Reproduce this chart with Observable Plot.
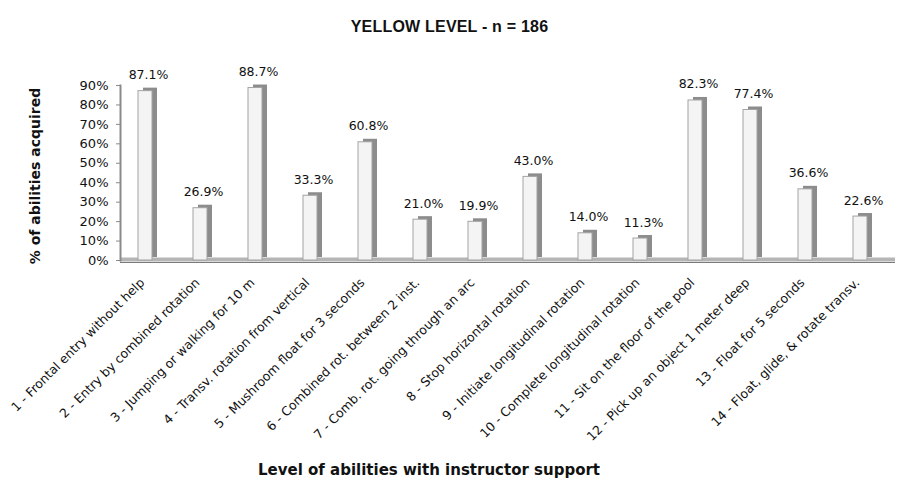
<!DOCTYPE html>
<html>
<head>
<meta charset="utf-8">
<script src="https://cdn.jsdelivr.net/npm/d3@7"></script>
<script src="https://cdn.jsdelivr.net/npm/@observablehq/plot@0.6"></script>
<style>
  html, body { margin: 0; padding: 0; background: #fff; }
  #wrap { width: 899px; height: 482px; position: relative; font-family: "DejaVu Sans", sans-serif; color: #111; }
  #title { height: 46px; padding-top: 4px; font: bold 16px "Liberation Sans", sans-serif; line-height: 46px; text-align: center; letter-spacing: 0.2px; }
  #xtitle { width: 858px; height: 22px; font: bold 15px "DejaVu Sans", sans-serif; line-height: 20px; text-align: center; }
  svg { display: block; overflow: visible; }
</style>
</head>
<body>
<div id="wrap">
  <div id="title">YELLOW LEVEL - n = 186</div>
  <div id="chart"></div>
  <div id="xtitle">Level of abilities with instructor support</div>
</div>
<script>
// Swimming abilities assessed at the yellow level (share of children who acquired each one)
const skills = [
  "1 - Frontal entry without help",
  "2 - Entry by combined rotation",
  "3 - Jumping or walking for 10 m",
  "4 - Transv. rotation from vertical",
  "5 - Mushroom float for 3 seconds",
  "6 - Combined rot. between 2 inst.",
  "7 - Comb. rot. going through an arc",
  "8 - Stop horizontal rotation",
  "9 - Initiate longitudinal rotation",
  "10 - Complete longitudinal rotation",
  "11 - Sit on the floor of the pool",
  "12 - Pick up an object 1 meter deep",
  "13 - Float for 5 seconds",
  "14 - Float, glide, & rotate transv."
];
const acquired = [87.1, 26.9, 88.7, 33.3, 60.8, 21.0, 19.9, 43.0, 14.0, 11.3, 82.3, 77.4, 36.6, 22.6];
const yTicks = [0, 10, 20, 30, 40, 50, 60, 70, 80, 90];

const rows = skills.map((skill, i) => ({skill, pct: acquired[i]}));

const chart = Plot.plot({
  width: 899,
  height: 410,
  marginTop: 35,
  marginBottom: 200,
  marginLeft: 120,
  marginRight: 4,
  style: {fontFamily: "DejaVu Sans, sans-serif", color: "#111", background: "#fff", overflow: "visible"},
  x: {type: "band", domain: skills, range: [135, 870], paddingInner: 0.75, paddingOuter: 0},
  y: {domain: [0, 90]},
  marks: [
    // floor slab
    Plot.ruleY([0], {stroke: "#b5b5b5", strokeWidth: 4, dy: -1}),
    Plot.ruleY([0], {stroke: "#7a7a7a", strokeWidth: 1.2, dy: 2}),
    // left wall edge
    Plot.frame({anchor: "left", stroke: "#8a8a8a", strokeWidth: 2}),
    Plot.axisY(yTicks, {tickSize: 4, tickPadding: 8, tickFormat: d => d + "%", fontSize: 13, stroke: "#8a8a8a", label: null}),
    Plot.axisX({tickRotate: -45, tickSize: 0, tickPadding: 20, dx: -3, fontSize: 12.5, label: null}),
    // 3D column: shaded side/top behind, light front face
    Plot.barY(rows, {x: "skill", y: "pct", fill: "#8c8c8c", dx: 5, dy: -3}),
    Plot.barY(rows, {x: "skill", y: "pct", fill: "#f4f4f4", stroke: "#a3a3a3", strokeWidth: 1}),
    Plot.text(rows, {x: "skill", y: "pct", text: d => d.pct.toFixed(1) + "%", dy: -16, dx: 3, fontSize: 12.5, fill: "#111"}),
    Plot.text(["% of abilities acquired"], {text: d => d, frameAnchor: "left", textAnchor: "middle", rotate: -90, dx: -85, dy: 3, fontSize: 14, fontWeight: "bold", fill: "#111"})
  ]
});
document.getElementById("chart").appendChild(chart);
</script>
</body>
</html>
